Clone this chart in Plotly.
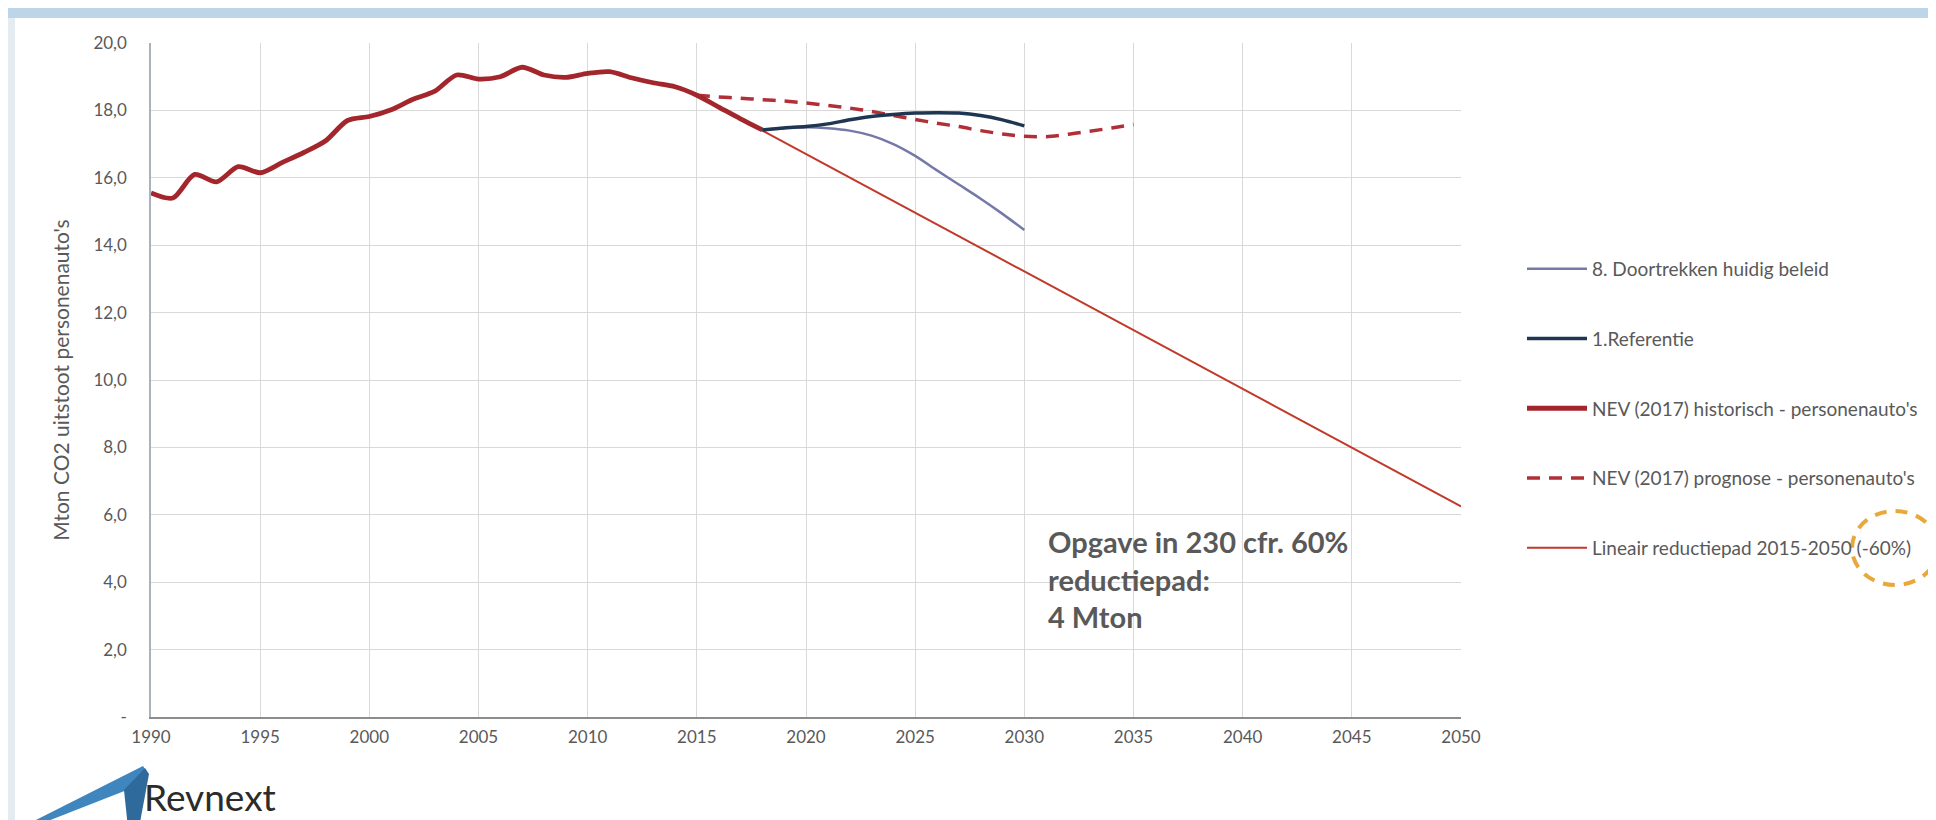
import plotly.graph_objects as go

W, H = 1936, 820
PL, PR, PT, PB = 143, 1453, 35, 709  # plot area in pixels

# ---------------- data ----------------
years_hist = list(range(1990, 2019))
hist = [15.55, 15.40, 16.10, 15.88, 16.33, 16.15, 16.45, 16.75, 17.10, 17.70,
        17.82, 18.02, 18.33, 18.57, 19.05, 18.93, 19.00, 19.28, 19.05, 18.98,
        19.10, 19.15, 18.97, 18.82, 18.70, 18.45, 18.10, 17.75, 17.42]

years_prog = list(range(2015, 2036))
prog = [18.45, 18.40, 18.36, 18.32, 18.28, 18.22, 18.15, 18.07, 17.97, 17.85,
        17.73, 17.62, 17.52, 17.40, 17.30, 17.23, 17.22, 17.29, 17.38, 17.48, 17.58]

years_scen = list(range(2018, 2031))
referentie = [17.42, 17.48, 17.52, 17.60, 17.72, 17.82, 17.88, 17.92, 17.93,
              17.92, 17.85, 17.72, 17.54]
doortrekken = [17.42, 17.48, 17.50, 17.47, 17.40, 17.25, 17.00, 16.65, 16.22,
               15.80, 15.38, 14.93, 14.45]

years_lin = [2015, 2050]
lineair = [18.45, 6.25]

x_ticks = list(range(1990, 2051, 5))
y_ticks = list(range(0, 21, 2))
y_ticktext = ["-", "2,0", "4,0", "6,0", "8,0", "10,0", "12,0", "14,0", "16,0", "18,0", "20,0"]

names = {
    "door": "8. Doortrekken huidig beleid",
    "ref": "1.Referentie",
    "hist": "NEV (2017) historisch - personenauto's",
    "prog": "NEV (2017) prognose - personenauto's",
    "lin": "Lineair reductiepad 2015-2050 (-60%)",
}
note_text = "Opgave in 230 cfr. 60%<br>reductiepad:<br>4 Mton"

GREY = "#595959"
FONT = "Lato"

# ---------------- figure ----------------
fig = go.Figure()
fig.add_trace(go.Scatter(x=years_lin, y=lineair, mode="lines", name=names["lin"],
                         line=dict(color="#C0392B", width=2), legendgroup="e", legendrank=5))
fig.add_trace(go.Scatter(x=years_prog, y=prog, mode="lines", name=names["prog"],
                         line=dict(color="#B22F38", width=3.5, dash="13px,9px", shape="spline", smoothing=0.8),
                         legendgroup="d", legendrank=4))
fig.add_trace(go.Scatter(x=years_hist, y=hist, mode="lines", name=names["hist"],
                         line=dict(color="#A3262C", width=4.8, shape="spline", smoothing=0.8),
                         legendgroup="c", legendrank=3))
fig.add_trace(go.Scatter(x=years_scen, y=doortrekken, mode="lines", name=names["door"],
                         line=dict(color="#7579A8", width=2.5, shape="spline", smoothing=0.8),
                         legendgroup="a", legendrank=1))
fig.add_trace(go.Scatter(x=years_scen, y=referentie, mode="lines", name=names["ref"],
                         line=dict(color="#1F3652", width=3.5, shape="spline", smoothing=0.8),
                         legendgroup="b", legendrank=2))


def px(xp):
    return (xp - PL) / (PR - PL)


def py(yp):
    return (PB - yp) / (PB - PT)


def path(pts):
    return "M " + " L ".join(f"{px(a):.5f},{py(b):.5f}" for a, b in pts) + " Z"


shapes = [
    # slide top band and left edge (scan frame)
    dict(type="rect", xref="paper", yref="paper", x0=px(0), x1=px(W), y0=py(0), y1=py(10),
         fillcolor="#BCD5E8", line=dict(width=0), layer="below"),
    dict(type="rect", xref="paper", yref="paper", x0=px(0), x1=px(7), y0=py(H), y1=py(10),
         fillcolor="#E4ECF2", line=dict(width=0), layer="below"),
    # Revnext logo swoosh
    dict(type="path", xref="paper", yref="paper",
         path=path([(14, 819), (135, 758), (139, 764), (119, 782), (22, 820)]),
         fillcolor="#3F86BE", line=dict(width=0)),
    dict(type="path", xref="paper", yref="paper",
         path=path([(116, 782), (137, 760), (141, 766), (131, 820), (120, 820)]),
         fillcolor="#2E6A9C", line=dict(width=0)),
    # dashed orange circle around "(-60%)"
    dict(type="circle", xref="paper", yref="paper",
         xsizemode="pixel", ysizemode="pixel",
         xanchor=px(1887), yanchor=py(540), x0=-43, x1=43, y0=-37, y1=37,
         line=dict(color="#E9A93A", width=4, dash="12px,9px")),
]

annotations = [
    dict(x=2031.0, y=4.1, xref="x", yref="y", text=note_text, showarrow=False,
         xanchor="left", yanchor="middle", align="left",
         font=dict(family=FONT, size=29, color=GREY, weight="bold")),
    dict(x=px(134), y=py(813), xref="paper", yref="paper", text="Revnext", showarrow=False,
         xanchor="left", yanchor="bottom",
         font=dict(family=FONT, size=37, color="#2B2B2B")),
]

fig.update_layout(
    width=W, height=H,
    margin=dict(l=PL, r=W - PR, t=PT, b=H - PB),
    paper_bgcolor="white", plot_bgcolor="white",
    font=dict(family=FONT, color=GREY),
    showlegend=True,
    legend=dict(xref="container", yref="container", x=1514 / W, y=1 - 242 / H,
                xanchor="left", yanchor="top", itemwidth=60, tracegroupgap=42,
                traceorder="grouped", bgcolor="rgba(0,0,0,0)",
                font=dict(family=FONT, size=19, color=GREY)),
    shapes=shapes,
    annotations=annotations,
)

fig.update_xaxes(range=[1990, 2050], tickvals=x_ticks, showgrid=True, gridcolor="#D9D9D9",
                 gridwidth=1, zeroline=False, showline=True, linecolor="#8C8C8C", linewidth=2,
                 ticks="outside", ticklen=4, tickcolor="rgba(0,0,0,0)",
                 tickfont=dict(family=FONT, size=17, color=GREY))
fig.update_yaxes(range=[0, 20], tickvals=y_ticks, ticktext=y_ticktext, showgrid=True,
                 gridcolor="#D9D9D9", gridwidth=1, zeroline=False, showline=True,
                 linecolor="#A9B2BE", linewidth=1.5,
                 ticks="outside", ticklen=19, tickcolor="rgba(0,0,0,0)",
                 tickfont=dict(family=FONT, size=17, color=GREY),
                 title=dict(text="Mton CO2 uitstoot personenauto's", standoff=18,
                            font=dict(family=FONT, size=21, color=GREY)))

fig.write_html("out.html")
